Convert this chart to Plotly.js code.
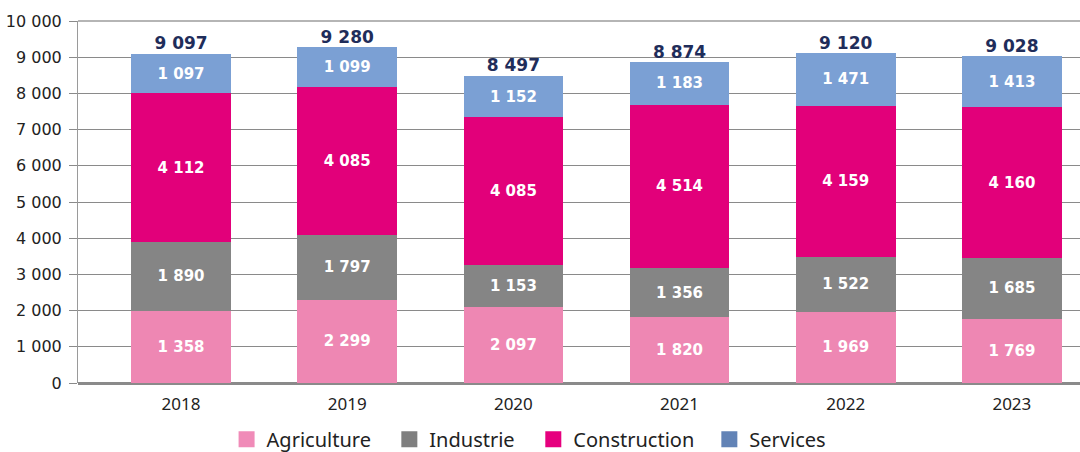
<!DOCTYPE html>
<html>
<head>
<meta charset="utf-8">
<script src="https://cdn.plot.ly/plotly-3.0.1.min.js"></script>
<style>html,body{margin:0;padding:0;background:#fff;}#chart{width:1080px;height:452px;}</style>
</head>
<body>
<div id="chart"></div>
<script>
// ---- data ----
var years = ['2018', '2019', '2020', '2021', '2022', '2023'];
var seriesNames = ['Agriculture', 'Industrie', 'Construction', 'Services'];
var agriculture = [1998, 2299, 2097, 1820, 1969, 1769];          // bar heights as drawn
var agricultureLabels = [1358, 2299, 2097, 1820, 1969, 1769];    // values printed on the bars
var industrie = [1890, 1797, 1153, 1356, 1522, 1685];
var construction = [4112, 4085, 4085, 4514, 4159, 4160];
var services = [1097, 1099, 1152, 1183, 1471, 1413];
var totals = [9097, 9280, 8497, 8874, 9120, 9028];

function fmt(n) { return String(n).replace(/\B(?=(\d{3})+(?!\d))/g, ' '); }

var barColors = ['#EE87B3', '#858585', '#E2007A', '#7BA0D4'];
var legendColors = ['#F08BB8', '#7F7F7F', '#E6007E', '#6283B6'];
var legendIds = ['legend', 'legend2', 'legend3', 'legend4'];
var legendX = [0.2098, 0.3605, 0.4938, 0.6568];
var heights = [agriculture, industrie, construction, services];
var labels = [agricultureLabels, industrie, construction, services];

var traces = [];
for (var s = 0; s < 4; s++) {
  traces.push({
    type: 'bar',
    name: seriesNames[s],
    x: years,
    y: heights[s],
    text: labels[s].map(fmt),
    textposition: 'inside',
    insidetextanchor: 'middle',
    textangle: 0,
    constraintext: 'none',
    textfont: {family: 'DejaVu Sans', size: 15, color: '#ffffff', weight: 'bold'},
    marker: {color: barColors[s], line: {width: 0}},
    showlegend: false,
    hoverinfo: 'skip'
  });
}
traces.push({
  type: 'scatter',
  mode: 'text',
  x: years,
  y: totals,
  text: totals.map(fmt),
  textposition: 'top center',
  textfont: {family: 'DejaVu Sans', size: 17, color: '#1F2D5A', weight: 'bold'},
  showlegend: false,
  hoverinfo: 'skip'
});
for (var k = 0; k < 4; k++) {
  traces.push({
    type: 'scatter',
    mode: 'markers',
    name: seriesNames[k],
    legend: legendIds[k],
    x: [null],
    y: [null],
    marker: {symbol: 'square', size: 18, color: legendColors[k]},
    showlegend: true,
    hoverinfo: 'skip'
  });
}

var layout = {
  width: 1080,
  height: 452,
  margin: {l: 78, r: 0, t: 21, b: 69, pad: 0},
  paper_bgcolor: '#ffffff',
  plot_bgcolor: '#ffffff',
  barmode: 'stack',
  bargap: 0.4,
  separators: ', ',
  hovermode: false,
  showlegend: true,
  xaxis: {
    type: 'category',
    range: [-0.62, 5.41],
    showgrid: false,
    zeroline: false,
    ticks: '',
    ticklabelstandoff: 9,
    tickfont: {family: 'Noto Sans', size: 17, color: '#222222'},
    fixedrange: true
  },
  yaxis: {
    range: [0, 10000],
    dtick: 1000,
    tick0: 0,
    tickformat: ',d',
    showgrid: true,
    gridcolor: '#8A8A8A',
    gridwidth: 1,
    showline: true,
    linecolor: '#9A9A9A',
    linewidth: 1,
    ticks: 'outside',
    ticklen: 8,
    tickcolor: '#8A8A8A',
    tickwidth: 1,
    ticklabelstandoff: 4,
    zeroline: true,
    zerolinecolor: '#8A8A8A',
    zerolinewidth: 3,
    tickfont: {family: 'DejaVu Sans', size: 16, color: '#222222'},
    fixedrange: true
  },
  shapes: [{
    type: 'line', xref: 'paper', yref: 'paper', x0: 0, x1: 1, y0: 1, y1: 1,
    line: {color: '#B5B5B5', width: 2}
  }]
};
for (var m = 0; m < 4; m++) {
  layout[legendIds[m]] = {
    orientation: 'h',
    xref: 'container',
    yref: 'container',
    x: legendX[m],
    xanchor: 'left',
    y: 0.028,
    yanchor: 'middle',
    font: {family: 'Noto Sans', size: 20, color: '#222222'},
    bgcolor: 'rgba(0,0,0,0)',
    borderwidth: 0
  };
}

Plotly.newPlot('chart', traces, layout, {displayModeBar: false, staticPlot: true});
</script>
</body>
</html>
